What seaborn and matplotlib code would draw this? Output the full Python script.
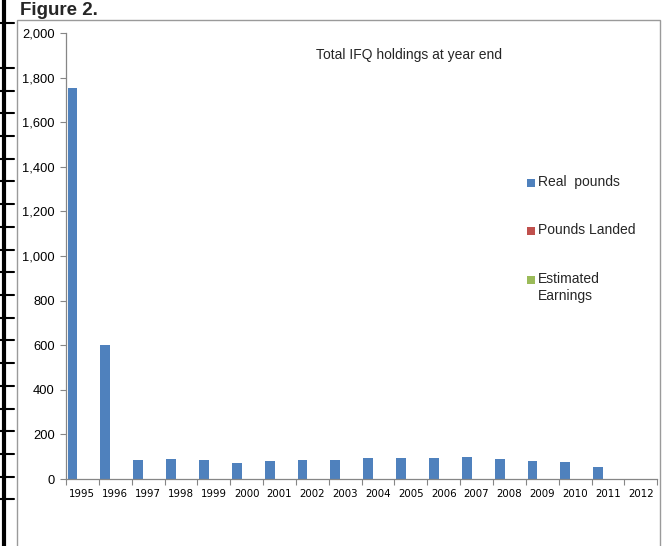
import pandas as pd
import numpy as np
import matplotlib
matplotlib.use('Agg')
import matplotlib.pyplot as plt
import seaborn as sns
from matplotlib.patches import Rectangle
from matplotlib.lines import Line2D
from matplotlib.ticker import FuncFormatter, FixedLocator

# Chart data
years = [str(y) for y in range(1995, 2013)]
real_pounds = [1755, 600, 85, 90, 84, 72, 81, 85, 85, 94, 96, 94, 97, 90, 82, 76, 55, 0]
pounds_landed = [0] * len(years)
estimated_earnings = [0] * len(years)
series_names = ['Real  pounds', 'Pounds Landed', 'Estimated\nEarnings']
series_colors = ['#4F81BD', '#C0504D', '#9BBB59']

df = pd.DataFrame({
    'Year': years * 3,
    'Value': real_pounds + pounds_landed + estimated_earnings,
    'Series': [series_names[0]] * len(years) + [series_names[1]] * len(years) + [series_names[2]] * len(years),
})

sns.set_style('white')
plt.rcParams['font.family'] = ['Liberation Sans', 'DejaVu Sans']

fig = plt.figure(figsize=(6.7, 5.46), dpi=100)
ax = fig.add_axes([0.0985, 0.1227, 0.8825, 0.8169])

sns.barplot(data=df, x='Year', y='Value', hue='Series', hue_order=series_names,
            palette=series_colors, saturation=1, width=0.9, linewidth=0, ax=ax, legend=False)

ax.set_xlim(-0.5, len(years) - 0.5)
ax.set_ylim(0, 2000)
ax.set_yticks(range(0, 2001, 200))
ax.yaxis.set_major_formatter(FuncFormatter(lambda v, p: f'{int(v):,}'))
ax.set_xlabel('')
ax.set_ylabel('')

# category axis: tick marks between categories
ax.tick_params(axis='x', which='major', bottom=False, length=0, labelsize=8, pad=7, colors='black')
ax.xaxis.set_minor_locator(FixedLocator(np.arange(-0.5, len(years), 1.0)))
ax.tick_params(axis='x', which='minor', bottom=True, length=4, color='#868686', width=0.8, direction='out')
ax.tick_params(axis='y', left=True, length=4, color='#868686', width=0.8, direction='out',
               labelsize=9.3, pad=4, labelcolor='black')
for lbl in ax.get_xticklabels():
    lbl.set_family(['DejaVu Sans'])
    lbl.set_fontsize(7.4)

for side in ['top', 'right']:
    ax.spines[side].set_visible(False)
for side in ['left', 'bottom']:
    ax.spines[side].set_color('#868686')
    ax.spines[side].set_linewidth(0.9)

ax.text(0.58, 0.95, 'Total IFQ holdings at year end', transform=ax.transAxes,
        ha='center', va='center', fontsize=10)

# legend, laid out like the original chart
legend_y = [183, 231, 280]
for name, col, yp in zip(series_names, series_colors, legend_y):
    fig.add_artist(Rectangle((527 / 670, 1 - (yp + 4) / 546), 8 / 670, 8 / 546,
                             transform=fig.transFigure, facecolor=col, edgecolor='none'))
    fig.text(538 / 670, 1 - (yp - 8) / 546, name, fontsize=10, ha='left', va='top',
             linespacing=1.3)

fig.text(20 / 670, 1 - 2 / 546, 'Figure 2.', fontsize=13.5, fontweight='bold', ha='left', va='top')

# chart frame
fig.add_artist(Rectangle((17 / 670, -0.01), (660 - 17) / 670, 1 - 20 / 546 + 0.01,
                         transform=fig.transFigure, fill=False, edgecolor='#9a9a9a', lw=1))

# table border remnants on the left edge
fig.add_artist(Line2D([4 / 670, 4 / 670], [0, 1], transform=fig.transFigure, color='black', lw=3))
for yp in [23] + list(np.arange(68, 500, 22.7)):
    fig.add_artist(Line2D([0, 14 / 670], [1 - yp / 546, 1 - yp / 546], transform=fig.transFigure,
                          color='black', lw=1.5))

fig.savefig('out.png', dpi=100)
